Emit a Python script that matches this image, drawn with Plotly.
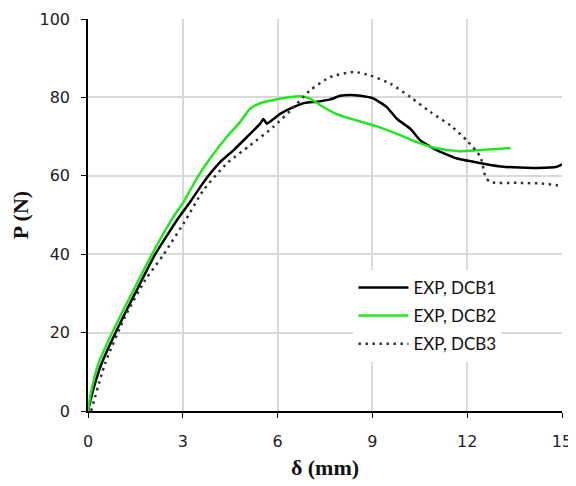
import plotly.graph_objects as go

# DCB1 (black solid)
dcb1_x = [0.0, 0.15, 0.43, 0.96, 1.49, 2.12, 2.85, 3.23, 3.55, 3.86, 4.18, 4.60, 5.03, 5.45, 5.55, 5.66,
          6.08, 6.50, 6.87, 7.24, 7.67, 7.98, 8.30, 8.62, 9.04, 9.46, 9.78, 10.20, 10.52, 11.05, 11.68,
          12.52, 13.15, 14.21, 14.84, 15.0]
dcb1_y = [0.0, 5.0, 12.1, 21.5, 30.0, 39.9, 49.1, 53.3, 57.1, 60.5, 63.5, 66.5, 69.9, 73.3, 74.5, 73.3,
          75.8, 77.5, 78.6, 78.9, 79.5, 80.4, 80.6, 80.4, 79.7, 77.5, 74.5, 72.0, 69.0, 66.5, 64.4,
          63.1, 62.3, 62.0, 62.3, 62.9]

# DCB2 (green solid)
dcb2_x = [0.0, 0.10, 0.33, 0.70, 1.28, 2.02, 2.70, 3.02, 3.44, 3.86, 4.39, 4.81, 5.13, 5.45, 6.03, 6.72,
          7.03, 7.35, 7.88, 8.51, 9.15, 9.78, 10.41, 10.94, 11.68, 12.31, 13.37]
dcb2_y = [0.0, 5.0, 12.1, 18.9, 28.3, 39.9, 49.5, 53.3, 59.3, 64.4, 69.9, 73.7, 77.1, 78.5, 79.6, 80.3,
          79.7, 78.0, 75.7, 74.1, 72.6, 70.7, 68.6, 67.2, 66.3, 66.5, 67.1]

# DCB3 (dotted)
dcb3_x = [0.1, 0.54, 1.17, 1.81, 2.39, 3.12, 3.65, 4.39, 5.13, 5.87, 6.40, 7.03, 7.67, 8.40, 8.93,
          9.57, 10.20, 10.83, 11.46, 11.99, 12.42, 12.58, 12.73, 13.58, 14.42, 15.0]
dcb3_y = [0.0, 12.1, 24.0, 33.4, 39.9, 49.1, 56.3, 63.1, 67.8, 72.5, 76.6, 81.8, 85.2, 86.5, 85.6,
          83.5, 80.1, 76.3, 72.9, 69.0, 64.8, 59.7, 58.4, 58.2, 58.0, 57.4]

series_names = ["EXP, DCB1", "EXP, DCB2", "EXP, DCB3"]
x_ticks = [0, 3, 6, 9, 12, 15]
y_ticks = [0, 20, 40, 60, 80, 100]

fig = go.Figure()
fig.add_trace(go.Scatter(x=dcb1_x, y=dcb1_y, mode="lines", name=series_names[0], legendgroup="a",
                         line=dict(color="black", width=2.5, shape="spline", smoothing=0.4)))
fig.add_trace(go.Scatter(x=dcb2_x, y=dcb2_y, mode="lines", name=series_names[1], legendgroup="b",
                         line=dict(color="#22e622", width=2.5, shape="spline", smoothing=0.6)))
fig.add_trace(go.Scatter(x=dcb3_x, y=dcb3_y, mode="lines", name=series_names[2], legendgroup="c",
                         line=dict(color="#333333", width=2.5, dash="2.5px,4.5px",
                                   shape="spline", smoothing=0.6)))

tick_font = dict(family="DejaVu Sans", size=16, color="#222222")
title_font = dict(family="Liberation Serif", size=22, color="#111111")

fig.update_layout(
    width=568, height=478,
    margin=dict(l=80, r=14, t=11, b=75),
    paper_bgcolor="white", plot_bgcolor="white",
    showlegend=True,
    legend=dict(x=0.56, y=0.36, xanchor="left", yanchor="top",
                bgcolor="white", borderwidth=0,
                font=dict(family="Lato", size=17, color="#111111"),
                tracegroupgap=3, itemwidth=50),
    xaxis=dict(range=[0, 15], tickvals=x_ticks, showgrid=True, gridcolor="#d9d9d9", gridwidth=1.5,
               showline=True, linecolor="black", linewidth=1.5, ticks="outside", ticklen=5,
               tickcolor="black", tickfont=tick_font, zeroline=False, automargin=False,
               ticklabelstandoff=10,
               title=dict(text="<b>δ (mm)</b>", font=title_font, standoff=10)),
    yaxis=dict(range=[0, 100], tickvals=y_ticks, showgrid=True, gridcolor="#d9d9d9", gridwidth=1.5,
               showline=True, linecolor="black", linewidth=1.5, ticks="outside", ticklen=5,
               tickcolor="black", tickfont=tick_font, zeroline=False, automargin=False,
               ticklabelstandoff=8,
               title=dict(text="<b>P (N)</b>", font=title_font, standoff=10)),
)

fig.write_html("out.html")
